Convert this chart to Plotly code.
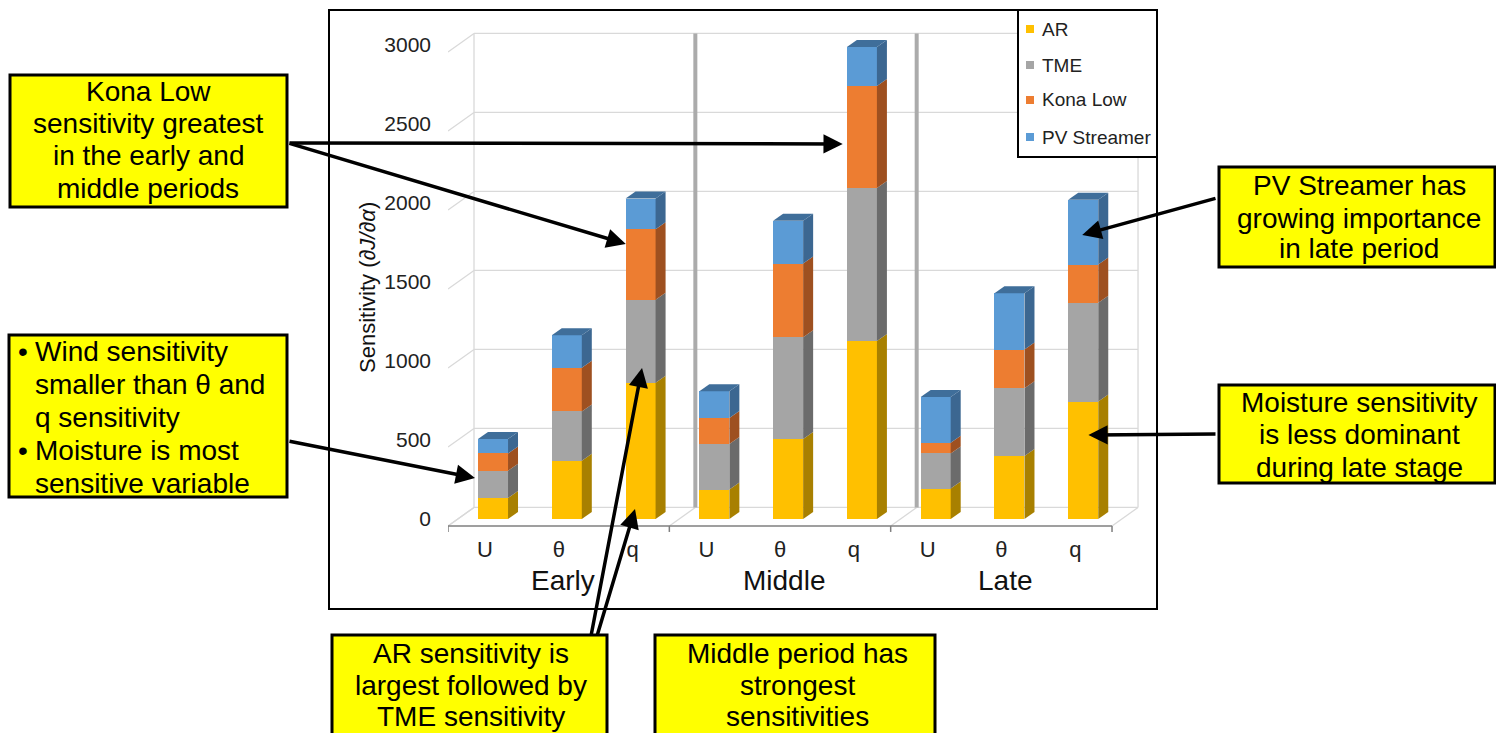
import plotly.graph_objects as go

# ---------------- data ----------------
categories = ["U", "θ", "q", "U", "θ", "q", "U", "θ", "q"]
periods = ["Early", "Middle", "Late"]
series_names = ["AR", "TME", "Kona Low", "PV Streamer"]
ar = [133, 369, 862, 186, 507, 1127, 193, 398, 743]
tme = [173, 312, 526, 289, 644, 968, 222, 430, 626]
kona = [109, 277, 446, 165, 466, 645, 68, 244, 241]
pv = [92, 205, 194, 169, 271, 248, 289, 357, 410]
y_ticks = [0, 500, 1000, 1500, 2000, 2500, 3000]

front_colors = ["#FFC000", "#A5A5A5", "#ED7D31", "#5B9BD5"]
side_colors = ["#A88000", "#6B6B6B", "#9E5020", "#3C6791"]
top_color = "#3F6E9A"

series = [ar, tme, kona, pv]
positions = list(range(len(categories)))

# ---------------- geometry ----------------
W, H = 1496, 733
L, R, T, B = 448, 357, 25, 199
PW, PH = W - L - R, H - T - B
XMIN = -0.61
XPX = 73.78                      # pixels per category
XMAX = XMIN + PW / XPX
YU = 500 / 79.0                  # data units per pixel
YMAX = (519 - T) * YU
YMIN = YMAX - PH * YU

BARW = 0.407
DX = 10 / XPX                     # bar depth (x)
DY = 7 * YU                       # bar depth (y)
FRONT = -44                       # front floor line
BACK_DX = 26 / XPX
BACK_DY = 117                     # back wall offset from front
BACK0 = FRONT + BACK_DY
FRONT_SHIFT = 8 / XPX


def xp(x):
    return L + (x - XMIN) * XPX


def yp(y):
    return T + (YMAX - y) / YU


def px_x(p):
    return (p - L) / PW


def px_y(p):
    return (T + PH - p) / PH


fig = go.Figure()
for name, vals, col in zip(series_names, series, front_colors):
    fig.add_trace(go.Bar(x=positions, y=vals, name=name, width=BARW,
                         marker=dict(color=col, line=dict(width=0)),
                         showlegend=False))

shapes = []
grid_col = "#D9D9D9"
fl = XMIN
fr = XMIN + len(categories)
bl = fl + BACK_DX
br = fr + BACK_DX
# back wall gridlines & left wall diagonals
for v in y_ticks:
    shapes.append(dict(type="line", xref="x", yref="y", x0=bl, x1=br,
                       y0=v + BACK0, y1=v + BACK0, layer="below",
                       line=dict(color=grid_col, width=1.3)))
    shapes.append(dict(type="line", xref="x", yref="y", x0=fl, x1=bl,
                       y0=v + FRONT, y1=v + BACK0, layer="below",
                       line=dict(color=grid_col, width=1.3)))
# wall vertical edges
for xe in (bl, br):
    shapes.append(dict(type="line", xref="x", yref="y", x0=xe, x1=xe,
                       y0=BACK0, y1=y_ticks[-1] + BACK0, layer="below",
                       line=dict(color=grid_col, width=1.3)))
# floor diagonals at group boundaries, separators, front axis ticks
for g in range(len(periods) + 1):
    xb = fl + 3 * g
    shapes.append(dict(type="line", xref="x", yref="y", x0=xb, x1=xb + BACK_DX,
                       y0=FRONT, y1=BACK0, layer="below",
                       line=dict(color=grid_col, width=1.3)))
    shapes.append(dict(type="line", xref="x", yref="y", x0=xb, x1=xb,
                       y0=FRONT, y1=FRONT - 6 * YU, layer="below",
                       line=dict(color="#7F7F7F", width=1.5)))
    if 0 < g < len(periods):
        shapes.append(dict(type="line", xref="x", yref="y", x0=xb + BACK_DX,
                           x1=xb + BACK_DX, y0=BACK0, y1=y_ticks[-1] + BACK0,
                           layer="below", line=dict(color="#ABABAB", width=4)))
shapes.append(dict(type="line", xref="x", yref="y", x0=fl, x1=fr,
                   y0=FRONT, y1=FRONT, layer="below",
                   line=dict(color="#7F7F7F", width=1.5)))

# 3D side and top faces from data
for i, xc in enumerate(positions):
    base = 0
    xr = xc + BARW / 2
    xlft = xc - BARW / 2
    for s, vals in enumerate(series):
        top = base + vals[i]
        path = (f"M{xr},{base} L{xr + DX},{base + DY} L{xr + DX},{top + DY} "
                f"L{xr},{top} Z")
        shapes.append(dict(type="path", xref="x", yref="y", path=path,
                           fillcolor=side_colors[s], line=dict(width=0)))
        base = top
    path = (f"M{xlft},{base} L{xlft + DX},{base + DY} L{xr + DX},{base + DY} "
            f"L{xr},{base} Z")
    shapes.append(dict(type="path", xref="x", yref="y", path=path,
                       fillcolor=top_color, line=dict(width=0)))

# chart frame
shapes.append(dict(type="rect", xref="paper", yref="paper",
                   x0=px_x(329), x1=px_x(1157), y0=px_y(609), y1=px_y(10),
                   line=dict(color="black", width=2), fillcolor="rgba(0,0,0,0)"))

annotations = []
FONT = "Liberation Sans, Arial, sans-serif"

# manual legend
shapes.append(dict(type="rect", xref="paper", yref="paper",
                   x0=px_x(1018), x1=px_x(1157), y0=px_y(157), y1=px_y(10),
                   line=dict(color="black", width=2), fillcolor="white"))
leg_y = [29, 65, 100, 137]
for name, col, ly in zip(series_names, front_colors, leg_y):
    shapes.append(dict(type="rect", xref="paper", yref="paper",
                       x0=px_x(1026), x1=px_x(1034), y0=px_y(ly + 4), y1=px_y(ly - 4),
                       line=dict(width=0), fillcolor=col))
    annotations.append(dict(xref="paper", yref="paper", x=px_x(1040), y=px_y(ly),
                            text=name, showarrow=False, xanchor="left",
                            yanchor="middle", font=dict(family=FONT, size=19, color="#222")))

# group labels
for gi, pname in enumerate(periods):
    annotations.append(dict(xref="x", yref="paper", x=3 * gi + 1 - 0.05,
                            y=px_y(580), text=pname, showarrow=False,
                            xanchor="center", yanchor="middle",
                            font=dict(family=FONT, size=28, color="#111")))

# y axis title
annotations.append(dict(xref="paper", yref="paper", x=px_x(367), y=px_y(288),
                        text="Sensitivity (<i>∂J/∂α</i>)", textangle=-90,
                        showarrow=False, xanchor="center", yanchor="middle",
                        font=dict(family=FONT, size=22, color="#111")))

# callout boxes
boxes = [
    (10, 287, 75, 207),
    (9, 287, 335, 497),
    (1219, 1495, 167, 267),
    (1219, 1495, 385, 483),
    (332, 607, 635, 745),
    (655, 935, 635, 745),
]
for x0, x1, y0, y1 in boxes:
    shapes.append(dict(type="rect", xref="paper", yref="paper",
                       x0=px_x(x0), x1=px_x(x1), y0=px_y(y1), y1=px_y(y0),
                       line=dict(color="black", width=3), fillcolor="#FFFF00"))

centered_texts = [
    (148, [92, 124, 156, 188], ["Kona Low", "sensitivity greatest",
                                "in the early and", "middle periods"]),
    (1359, [185, 218, 249], ["PV Streamer has", "growing importance",
                             "in late period"]),
    (1359, [402, 435, 467], ["Moisture sensitivity", "is less dominant",
                             "during late stage"]),
    (471, [653, 685, 716], ["AR sensitivity is", "largest followed by",
                            "TME sensitivity"]),
    (797, [653, 685, 716], ["Middle period has", "strongest",
                            "sensitivities"]),
]
for cx, ys, lines in centered_texts:
    for ly, txt in zip(ys, lines):
        annotations.append(dict(xref="paper", yref="paper", x=px_x(cx), y=px_y(ly),
                                text=txt, showarrow=False, xanchor="center",
                                yanchor="middle",
                                font=dict(family=FONT, size=28, color="black")))

wind_lines = [("•", "Wind sensitivity"), ("", "smaller than θ and"),
              ("", "q sensitivity"), ("•", "Moisture is most"),
              ("", "sensitive variable")]
wind_y = [351, 384, 417, 450, 483]
for (bul, txt), ly in zip(wind_lines, wind_y):
    if bul:
        annotations.append(dict(xref="paper", yref="paper", x=px_x(16), y=px_y(ly),
                                text=bul, showarrow=False, xanchor="left",
                                yanchor="middle",
                                font=dict(family=FONT, size=28, color="black")))
    annotations.append(dict(xref="paper", yref="paper", x=px_x(33), y=px_y(ly),
                            text=txt, showarrow=False, xanchor="left",
                            yanchor="middle",
                            font=dict(family=FONT, size=28, color="black")))

# arrows: (head x in data, head y in data, tail px x, tail px y)
arrows = [
    (5 - 0.26, 2374, 288, 143),
    (2 - 0.20, 1741, 288, 143),
    (0 - 0.244, 260, 288, 441),
    (2 - 0.075, 63, 597, 636),
    (2 + 0.02, 956, 591, 636),
    (8 - 0.014, 1798, 1217, 198),
    (8 + 0.07, 532, 1217, 434),
]
for hx, hy, tx, ty in arrows:
    annotations.append(dict(xref="x", yref="y", x=hx, y=hy, text="",
                            showarrow=True, arrowhead=2, arrowsize=1.1,
                            arrowwidth=3.5, arrowcolor="black",
                            ax=tx - xp(hx), ay=ty - yp(hy), standoff=0))

fig.update_layout(
    width=W, height=H,
    margin=dict(l=L, r=R, t=T, b=B, pad=0),
    barmode="stack",
    paper_bgcolor="white", plot_bgcolor="white",
    showlegend=False,
    shapes=shapes, annotations=annotations,
    xaxis=dict(range=[XMIN, XMAX], tickvals=[p - FRONT_SHIFT for p in positions],
               ticktext=categories, showgrid=False, zeroline=False,
               showline=False, ticks="", ticklabelstandoff=0,
               tickfont=dict(family=FONT, size=22, color="#222")),
    yaxis=dict(range=[YMIN, YMAX], tickvals=y_ticks,
               ticktext=[str(v) for v in y_ticks], showgrid=False,
               zeroline=False, showline=False, ticks="",
               ticklabelstandoff=16,
               tickfont=dict(family=FONT, size=21, color="#222")),
)

fig.write_html("out.html")
